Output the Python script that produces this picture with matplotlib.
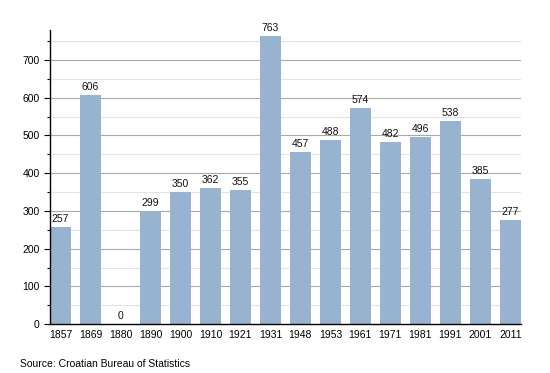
import numpy as np
import matplotlib.pyplot as plt

years = ['1857', '1869', '1880', '1890', '1900', '1910', '1921', '1931',
         '1948', '1953', '1961', '1971', '1981', '1991', '2001', '2011']
population = [257, 606, 0, 299, 350, 362, 355, 763,
              457, 488, 574, 482, 496, 538, 385, 277]

plt.rcParams['font.family'] = ['Liberation Sans', 'DejaVu Sans']

fig = plt.figure(figsize=(5.5, 3.73), dpi=100)
ax = fig.add_axes([0.0909, 0.131, 0.856, 0.789])

x = np.arange(len(years))
ax.bar(x, population, width=0.7, color='#98b3d0', zorder=2)
for xi, v in zip(x, population):
    ax.text(xi, v + 8, str(v), ha='center', va='bottom', fontsize=7.5, color='#111111')

ax.set_xlim(-0.35, len(years) - 0.65)
ax.set_ylim(0, 780)
ax.set_xticks(x)
ax.set_xticklabels(years, fontsize=7.5)
ax.set_yticks(np.arange(0, 701, 100))
ax.set_yticks(np.arange(50, 751, 100), minor=True)
ax.tick_params(axis='y', which='major', length=4, labelsize=7.5, width=0.8)
ax.tick_params(axis='y', which='minor', length=2, width=0.8)
ax.tick_params(axis='x', length=0, pad=4)

for v in np.arange(100, 701, 100):
    ax.axhline(v, color='#a8a8a8', lw=0.8, zorder=1)
for v in np.arange(50, 751, 100):
    ax.axhline(v, color='#e3e3e3', lw=0.8, zorder=1)

for s in ['top', 'right']:
    ax.spines[s].set_visible(False)
ax.spines['left'].set_linewidth(1)
ax.spines['bottom'].set_linewidth(1)

fig.text(0.036, 0.012, 'Source: Croatian Bureau of Statistics', fontsize=7.5, va='bottom')

fig.savefig('out.png', dpi=100)
